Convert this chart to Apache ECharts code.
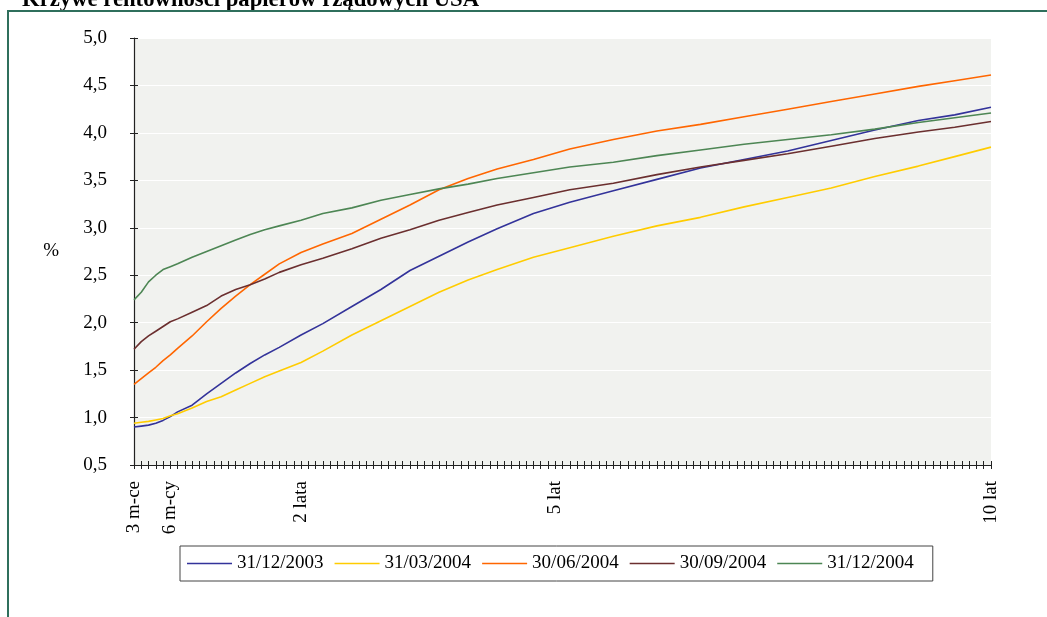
<!DOCTYPE html>
<html>
<head>
<meta charset="utf-8">
<script src="https://cdn.jsdelivr.net/npm/echarts@6/dist/echarts.min.js"></script>
<style>
html,body{margin:0;padding:0;background:#fff;}
#chart{width:1047px;height:617px;}
</style>
</head>
<body>
<div id="chart"></div>
<script>
// ---- data ----
const titleText = 'Krzywe rentowności papierów rządowych USA';
const categoryCount = 119;
const labelIdx = [0, 5, 23, 58, 118];
const labelText = ['3 m-ce', '6 m-cy', '2 lata', '5 lat', '10 lat'];
const yTicks = [0.5, 5.0, 0.5]; // min, max, interval
const seriesNames = ['31/12/2003', '31/03/2004', '30/06/2004', '30/09/2004', '31/12/2004'];
const seriesColors = ['#33339a', '#ffcc00', '#ff6600', '#6b2f2f', '#4d8654'];
const sampleIdx = [0, 1, 2, 3, 4, 5, 6, 8, 10, 12, 14, 16, 18, 20, 23, 26, 30, 34, 38, 42, 46, 50, 55, 60, 66, 72, 78, 84, 90, 96, 102, 108, 113, 118];
const y2003_12 = [0.90, 0.91, 0.92, 0.94, 0.97, 1.01, 1.06, 1.13, 1.25, 1.36, 1.47, 1.57, 1.66, 1.74, 1.87, 1.99, 2.17, 2.35, 2.55, 2.70, 2.85, 2.99, 3.15, 3.27, 3.39, 3.51, 3.63, 3.72, 3.81, 3.92, 4.03, 4.13, 4.19, 4.27];
const y2004_03 = [0.94, 0.95, 0.96, 0.975, 0.99, 1.02, 1.04, 1.10, 1.17, 1.22, 1.29, 1.36, 1.43, 1.49, 1.58, 1.70, 1.87, 2.02, 2.17, 2.32, 2.45, 2.56, 2.69, 2.79, 2.91, 3.02, 3.11, 3.22, 3.32, 3.42, 3.54, 3.65, 3.75, 3.85];
const y2004_06 = [1.35, 1.41, 1.47, 1.53, 1.60, 1.66, 1.73, 1.86, 2.01, 2.15, 2.28, 2.40, 2.51, 2.62, 2.74, 2.83, 2.94, 3.09, 3.24, 3.40, 3.52, 3.62, 3.72, 3.83, 3.93, 4.02, 4.09, 4.17, 4.25, 4.33, 4.41, 4.49, 4.55, 4.61];
const y2004_09 = [1.72, 1.80, 1.86, 1.91, 1.96, 2.01, 2.04, 2.11, 2.18, 2.28, 2.35, 2.40, 2.46, 2.53, 2.61, 2.68, 2.78, 2.89, 2.98, 3.08, 3.16, 3.24, 3.32, 3.40, 3.47, 3.56, 3.64, 3.71, 3.78, 3.86, 3.94, 4.01, 4.06, 4.12];
const y2004_12 = [2.24, 2.32, 2.43, 2.50, 2.56, 2.59, 2.62, 2.69, 2.75, 2.81, 2.87, 2.93, 2.98, 3.02, 3.08, 3.15, 3.21, 3.29, 3.35, 3.41, 3.46, 3.52, 3.58, 3.64, 3.69, 3.76, 3.82, 3.88, 3.93, 3.98, 4.04, 4.11, 4.16, 4.21];
const allValues = [y2003_12, y2004_03, y2004_06, y2004_09, y2004_12];

// ---- build ----
const FONT = '"Liberation Serif", "Times New Roman", serif';
const categories = [];
for (let i = 0; i < categoryCount; i++) {
  const k = labelIdx.indexOf(i);
  categories.push(k >= 0 ? labelText[k] : '');
}
const fmt = v => v.toFixed(1).replace('.', ',');

const series = seriesNames.map((name, s) => ({
  name: name,
  type: 'line',
  xAxisIndex: 0,
  yAxisIndex: 0,
  symbol: 'none',
  data: sampleIdx.map((ix, j) => [ix, allValues[s][j]]),
  lineStyle: { color: seriesColors[s], width: 1.6 },
  itemStyle: { color: seriesColors[s] },
  animation: false
}));

const chart = echarts.init(document.getElementById('chart'), null, { renderer: 'canvas' });
const grid = { left: 134, right: 56, top: 38, bottom: 152, show: true, backgroundColor: '#f1f2ef', borderWidth: 0 };
chart.setOption({
  animation: false,
  grid: grid,
  legend: {
    left: 180, top: 546,
    orient: 'horizontal',
    icon: 'rect',
    itemWidth: 45, itemHeight: 1.6, itemGap: 11,
    padding: [8, 19, 8, 7],
    borderColor: '#444', borderWidth: 1, backgroundColor: '#fff',
    textStyle: { fontFamily: FONT, fontSize: 19, lineHeight: 19, color: '#000' },
    data: seriesNames
  },
  xAxis: [{
    type: 'category',
    data: categories,
    boundaryGap: false,
    position: 'bottom',
    axisLine: { show: true, lineStyle: { color: '#222', width: 1.2 } },
    axisTick: { show: true, interval: 0, length: 4, lineStyle: { color: '#222' } },
    axisLabel: { interval: 0, rotate: 90, margin: 16, fontFamily: FONT, fontSize: 19, color: '#000' },
    splitLine: { show: false }
  }, {
    type: 'category',
    data: categories,
    boundaryGap: false,
    position: 'bottom',
    axisLine: { show: false },
    axisTick: { show: true, inside: true, interval: 0, length: 4, lineStyle: { color: '#222' } },
    axisLabel: { show: false },
    splitLine: { show: false }
  }],
  yAxis: [{
    type: 'value',
    min: yTicks[0], max: yTicks[1], interval: yTicks[2],
    position: 'left',
    name: '%',
    nameLocation: 'middle',
    nameRotate: 0,
    nameGap: 75,
    nameTextStyle: { fontFamily: FONT, fontSize: 19, color: '#000' },
    axisLine: { show: true, lineStyle: { color: '#222', width: 1.2 } },
    axisTick: { show: true, length: 4, lineStyle: { color: '#222' } },
    axisLabel: { margin: 27, fontFamily: FONT, fontSize: 19, color: '#000', formatter: fmt },
    splitLine: { show: true, lineStyle: { color: '#ffffff', width: 1.2 } }
  }, {
    type: 'value',
    min: yTicks[0], max: yTicks[1], interval: yTicks[2],
    position: 'left', offset: 0,
    axisLine: { show: false },
    axisTick: { show: true, inside: true, length: 4, lineStyle: { color: '#222' } },
    axisLabel: { show: false },
    splitLine: { show: false }
  }],
  series: series,
  graphic: [{
    type: 'text',
    left: 22, top: -11,
    z: 10,
    style: { text: titleText, font: 'bold 22.7px ' + FONT, fill: '#000' }
  }, {
    type: 'rect',
    z: 11,
    shape: { x: 8, y: 11, width: 1200, height: 800 },
    style: { fill: 'none', stroke: '#2f6f5c', lineWidth: 2 }
  }]
});
</script>
</body>
</html>
